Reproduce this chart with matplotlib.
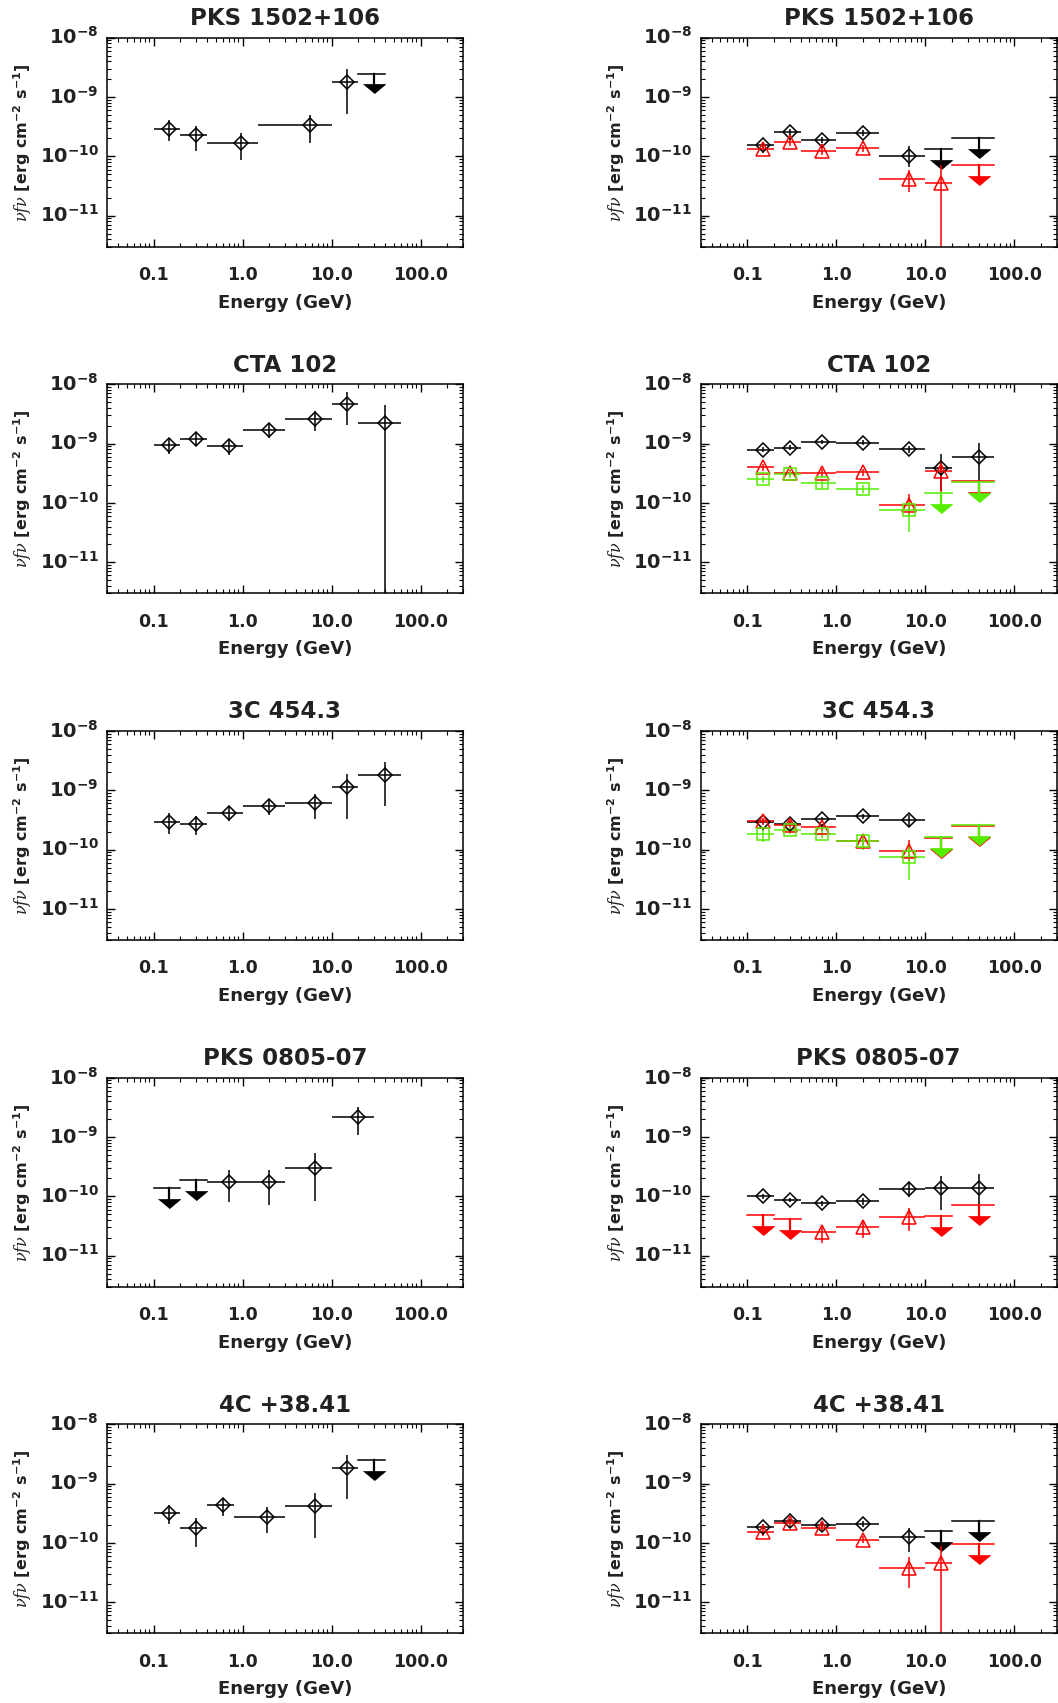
import numpy as np
import matplotlib
matplotlib.use('Agg')
import matplotlib.pyplot as plt
from matplotlib.ticker import NullFormatter, LogLocator

nan = np.nan

plt.rcParams['font.family'] = 'DejaVu Sans'
plt.rcParams['mathtext.fontset'] = 'custom'
plt.rcParams['mathtext.rm'] = 'DejaVu Sans:bold'
plt.rcParams['mathtext.bf'] = 'DejaVu Sans:bold'
plt.rcParams['mathtext.it'] = 'DejaVu Serif:italic'

#energy bins (GeV)
edges_std = [0.1, 0.2, 0.4, 1, 3, 10, 20, 60]
e_std = [0.15, 0.3, 0.7, 2, 6.5, 15, 40]
edges_1502 = [0.1, 0.2, 0.4, 1.5, 10, 20, 40]
e_1502 = [0.15, 0.3, 0.95, 5.75, 15, 30]
edges_0805 = [0.1, 0.2, 0.4, 1, 3, 10, 30]
e_0805 = [0.15, 0.3, 0.7, 2, 6.5, 20]
edges_3841 = [0.1, 0.2, 0.4, 0.8, 3, 10, 20, 40]
e_3841 = [0.15, 0.3, 0.6, 1.9, 6.5, 15, 30]

#PKS 1502+106
f_1502 = [2.94e-10, 2.25e-10, 1.69e-10, 3.35e-10, 1.78e-9, 2.49e-9]
lo_1502 = [1.78e-10, 1.25e-10, 8.7e-11, 1.67e-10, 5.26e-10, nan]
hi_1502 = [4.12e-10, 3.2e-10, 2.52e-10, 4.99e-10, 2.99e-9, nan]
ul_1502 = [0, 0, 0, 0, 0, 1]

f_1502_k = [1.57e-10, 2.59e-10, 1.90e-10, 2.49e-10, 1.01e-10, 1.33e-10, 2.03e-10]
lo_1502_k = [1.40e-10, 2.33e-10, 1.70e-10, 2.24e-10, 6.6e-11, nan, nan]
hi_1502_k = [1.75e-10, 2.88e-10, 2.12e-10, 2.76e-10, 1.47e-10, nan, nan]
ul_1502_k = [0, 0, 0, 0, 0, 1, 1]
f_1502_r = [1.34e-10, 1.74e-10, 1.23e-10, 1.38e-10, 4.23e-11, 3.52e-11, 7.24e-11]
lo_1502_r = [1.15e-10, 1.5e-10, 1.05e-10, 1.2e-10, 2.46e-11, 1e-13, nan]
hi_1502_r = [1.55e-10, 2.0e-10, 1.42e-10, 1.58e-10, 5.8e-11, 7.1e-11, nan]
ul_1502_r = [0, 0, 0, 0, 0, 0, 1]

#CTA 102
f_cta = [9.4e-10, 1.21e-9, 9.0e-10, 1.70e-9, 2.58e-9, 4.68e-9, 2.26e-9]
lo_cta = [6.6e-10, 9.5e-10, 6.4e-10, 1.23e-9, 1.66e-9, 2.04e-9, 1e-13]
hi_cta = [1.2e-9, 1.49e-9, 1.15e-9, 2.12e-9, 3.56e-9, 7.4e-9, 4.5e-9]
ul_cta = [0, 0, 0, 0, 0, 0, 0]

f_cta_k = [7.92e-10, 8.55e-10, 1.07e-9, 1.04e-9, 8.23e-10, 3.94e-10, 6.04e-10]
lo_cta_k = [7.2e-10, 7.8e-10, 9.8e-10, 9.5e-10, 7.0e-10, 1.6e-10, 1.53e-10]
hi_cta_k = [8.7e-10, 9.4e-10, 1.17e-9, 1.14e-9, 9.0e-10, 6.8e-10, 1.04e-9]
ul_cta_k = [0, 0, 0, 0, 0, 0, 0]
f_cta_r = [3.98e-10, 3.2e-10, 3.2e-10, 3.33e-10, 9.4e-11, 3.41e-10, 2.32e-10]
lo_cta_r = [3.5e-10, 2.8e-10, 2.75e-10, 2.9e-10, 6.3e-11, 1.54e-10, nan]
hi_cta_r = [4.5e-10, 3.65e-10, 3.7e-10, 3.8e-10, 1.41e-10, 5.4e-10, nan]
ul_cta_r = [0, 0, 0, 0, 0, 0, 1]
f_cta_g = [2.5e-10, 3.03e-10, 2.14e-10, 1.72e-10, 7.5e-11, 1.49e-10, 2.25e-10]
lo_cta_g = [2.15e-10, 2.6e-10, 1.8e-10, 1.45e-10, 3.2e-11, nan, nan]
hi_cta_g = [2.9e-10, 3.5e-10, 2.5e-10, 2.0e-10, 1.04e-10, nan, nan]
ul_cta_g = [0, 0, 0, 0, 0, 1, 1]

#3C 454.3
f_454 = [2.96e-10, 2.74e-10, 4.15e-10, 5.44e-10, 6.04e-10, 1.14e-9, 1.81e-9]
lo_454 = [1.81e-10, 1.74e-10, 3.04e-10, 3.89e-10, 3.33e-10, 3.29e-10, 5.44e-10]
hi_454 = [4.15e-10, 3.74e-10, 5.3e-10, 6.96e-10, 8.8e-10, 1.91e-9, 3.04e-9]
ul_454 = [0, 0, 0, 0, 0, 0, 0]

f_454_k = [2.96e-10, 2.74e-10, 3.29e-10, 3.69e-10, 3.2e-10]
lo_454_k = [2.7e-10, 2.5e-10, 3.0e-10, 3.35e-10, 2.41e-10]
hi_454_k = [3.25e-10, 3.0e-10, 3.6e-10, 4.05e-10, 3.9e-10]
ul_454_k = [0, 0, 0, 0, 0]
f_454_r = [3.0e-10, 2.64e-10, 2.41e-10, 1.40e-10, 9.5e-11, 1.60e-10, 2.50e-10]
lo_454_r = [2.6e-10, 2.3e-10, 2.1e-10, 1.2e-10, 6.5e-11, nan, nan]
hi_454_r = [3.45e-10, 3.0e-10, 2.75e-10, 1.62e-10, 1.44e-10, nan, nan]
ul_454_r = [0, 0, 0, 0, 0, 1, 1]
f_454_g = [1.86e-10, 2.12e-10, 1.86e-10, 1.38e-10, 7.5e-11, 1.66e-10, 2.58e-10]
lo_454_g = [1.35e-10, 1.85e-10, 1.6e-10, 1.0e-10, 3.1e-11, nan, nan]
hi_454_g = [2.4e-10, 2.45e-10, 2.15e-10, 1.8e-10, 1.18e-10, nan, nan]
ul_454_g = [0, 0, 0, 0, 0, 1, 1]

#PKS 0805-07
f_0805 = [1.36e-10, 1.91e-10, 1.77e-10, 1.77e-10, 3.04e-10, 2.14e-9]
lo_0805 = [nan, nan, 8.1e-11, 7.1e-11, 8.45e-11, 1.08e-9]
hi_0805 = [nan, nan, 2.74e-10, 2.74e-10, 5.3e-10, 3.16e-9]
ul_0805 = [1, 1, 0, 0, 0, 0]

f_0805_k = [1.0e-10, 8.67e-11, 7.72e-11, 8.24e-11, 1.33e-10, 1.38e-10, 1.38e-10]
lo_0805_k = [9.2e-11, 8.0e-11, 7.0e-11, 7.2e-11, 9.6e-11, 5.8e-11, 4.6e-11]
hi_0805_k = [1.08e-10, 9.4e-11, 8.4e-11, 9.4e-11, 1.67e-10, 2.17e-10, 2.41e-10]
ul_0805_k = [0, 0, 0, 0, 0, 0, 0]
f_0805_r = [4.79e-11, 4.2e-11, 2.47e-11, 3.0e-11, 4.43e-11, 4.6e-11, 7.24e-11]
lo_0805_r = [nan, nan, 1.63e-11, 2.0e-11, 2.57e-11, nan, nan]
hi_0805_r = [nan, nan, 3.3e-11, 4.0e-11, 6.4e-11, nan, nan]
ul_0805_r = [1, 1, 0, 0, 0, 1, 1]

#4C +38.41
f_3841 = [3.24e-10, 1.77e-10, 4.36e-10, 2.78e-10, 4.15e-10, 1.84e-9, 2.47e-9]
lo_3841 = [2.09e-10, 8.6e-11, 2.89e-10, 1.48e-10, 1.21e-10, 5.52e-10, nan]
hi_3841 = [4.32e-10, 2.64e-10, 5.81e-10, 3.99e-10, 6.87e-10, 3.08e-9, nan]
ul_3841 = [0, 0, 0, 0, 0, 0, 1]

f_3841_k = [1.88e-10, 2.37e-10, 1.98e-10, 2.06e-10, 1.27e-10, 1.59e-10, 2.37e-10]
lo_3841_k = [1.72e-10, 2.17e-10, 1.8e-10, 1.85e-10, 7.0e-11, nan, nan]
hi_3841_k = [2.05e-10, 2.58e-10, 2.15e-10, 2.3e-10, 1.81e-10, nan, nan]
ul_3841_k = [0, 0, 0, 0, 0, 1, 1]
f_3841_r = [1.53e-10, 2.14e-10, 1.79e-10, 1.13e-10, 3.77e-11, 4.64e-11, 9.6e-11]
lo_3841_r = [1.3e-10, 1.85e-10, 1.55e-10, 9.8e-11, 1.75e-11, 1e-13, nan]
hi_3841_r = [1.75e-10, 2.45e-10, 2.05e-10, 1.3e-10, 5.86e-11, 8.9e-11, nan]
ul_3841_r = [0, 0, 0, 0, 0, 0, 1]

titles = ['PKS 1502+106', 'CTA 102', '3C 454.3', 'PKS 0805-07', '4C +38.41']

RED = '#ff0000'
GREEN = '#55ee00'
TXT = '#222222'
# flat filled down arrow head used for upper limits
ARROW = [(-1.2, 0), (1.2, 0), (0, -1)]
UL_DROP = 1.53


def draw(ax, edges, e, f, lo, hi, ul, color, marker, ms):
    for i in range(len(f)):
        if ul[i]:
            ax.plot([edges[i], edges[i + 1]], [f[i], f[i]], color=color, lw=1.1)
            ax.plot([e[i], e[i]], [f[i], f[i] / UL_DROP], color=color, lw=1.6)
            ax.plot(e[i], f[i] / UL_DROP, marker=ARROW, ms=16, color=color,
                    mec=color, mew=0.5, ls='none')
        else:
            ax.errorbar(e[i], f[i],
                        xerr=[[e[i] - edges[i]], [edges[i + 1] - e[i]]],
                        yerr=[[f[i] - lo[i]], [hi[i] - f[i]]],
                        fmt=marker, mfc='none', mec=color, ecolor=color,
                        ms=ms, mew=1.1, elinewidth=1.1, capsize=0)


fig = plt.figure(figsize=(10.58, 17.03), dpi=100)

tops = [37.7, 384.3, 731, 1077.7, 1424.3]
lefts = [107 / 1058, 700.7 / 1058]
w = 356 / 1058
h = 209 / 1703

DM = 7.0   # diamond size
TM = 10.0  # triangle / square size

left_data = [
    [(edges_1502, e_1502, f_1502, lo_1502, hi_1502, ul_1502, 'black', 'D', DM)],
    [(edges_std, e_std, f_cta, lo_cta, hi_cta, ul_cta, 'black', 'D', DM)],
    [(edges_std, e_std, f_454, lo_454, hi_454, ul_454, 'black', 'D', DM)],
    [(edges_0805, e_0805, f_0805, lo_0805, hi_0805, ul_0805, 'black', 'D', DM)],
    [(edges_3841, e_3841, f_3841, lo_3841, hi_3841, ul_3841, 'black', 'D', DM)],
]
right_data = [
    [(edges_std, e_std, f_1502_k, lo_1502_k, hi_1502_k, ul_1502_k, 'black', 'D', DM),
     (edges_std, e_std, f_1502_r, lo_1502_r, hi_1502_r, ul_1502_r, RED, '^', TM)],
    [(edges_std, e_std, f_cta_k, lo_cta_k, hi_cta_k, ul_cta_k, 'black', 'D', DM),
     (edges_std, e_std, f_cta_r, lo_cta_r, hi_cta_r, ul_cta_r, RED, '^', TM),
     (edges_std, e_std, f_cta_g, lo_cta_g, hi_cta_g, ul_cta_g, GREEN, 's', 9)],
    [(edges_std, e_std, f_454_k, lo_454_k, hi_454_k, ul_454_k, 'black', 'D', DM),
     (edges_std, e_std, f_454_r, lo_454_r, hi_454_r, ul_454_r, RED, '^', TM),
     (edges_std, e_std, f_454_g, lo_454_g, hi_454_g, ul_454_g, GREEN, 's', 9)],
    [(edges_std, e_std, f_0805_k, lo_0805_k, hi_0805_k, ul_0805_k, 'black', 'D', DM),
     (edges_std, e_std, f_0805_r, lo_0805_r, hi_0805_r, ul_0805_r, RED, '^', TM)],
    [(edges_std, e_std, f_3841_k, lo_3841_k, hi_3841_k, ul_3841_k, 'black', 'D', DM),
     (edges_std, e_std, f_3841_r, lo_3841_r, hi_3841_r, ul_3841_r, RED, '^', TM)],
]

for row in range(5):
    bottom = 1 - (tops[row] + 209) / 1703
    for col, data in enumerate([left_data, right_data]):
        ax = fig.add_axes([lefts[col], bottom, w, h])
        ax.set_xscale('log')
        ax.set_yscale('log')
        for series in data[row]:
            draw(ax, *series)
        ax.set_xlim(0.03, 300)
        ax.set_ylim(3e-12, 1e-8)

        ax.set_xticks([0.1, 1, 10, 100])
        ax.set_xticklabels(['0.1', '1.0', '10.0', '100.0'], fontweight='bold',
                           fontsize=12.5, color=TXT)
        ax.set_yticks([1e-11, 1e-10, 1e-9, 1e-8])
        ax.set_yticklabels([r'$10^{-11}$', r'$10^{-10}$', r'$10^{-9}$', r'$10^{-8}$'],
                           fontsize=14, color=TXT, va='center')
        ax.xaxis.set_minor_locator(LogLocator(subs=np.arange(2, 10)))
        ax.yaxis.set_minor_locator(LogLocator(subs=np.arange(2, 10)))
        ax.xaxis.set_minor_formatter(NullFormatter())
        ax.yaxis.set_minor_formatter(NullFormatter())
        ax.tick_params(which='both', direction='in', top=True, right=True)
        ax.tick_params(which='major', length=6, width=1)
        ax.tick_params(which='minor', length=3, width=0.8)
        ax.tick_params(axis='x', which='major', pad=14)
        ax.tick_params(axis='y', which='major', pad=6)
        for sp in ax.spines.values():
            sp.set_linewidth(1.1)

        ax.set_title(titles[row], fontsize=16.5, fontweight='bold', color=TXT, pad=9)
        ax.set_xlabel('Energy (GeV)', fontsize=13, fontweight='bold', color=TXT)
        ax.xaxis.set_label_coords(0.5, -0.225)
        ax.set_ylabel(r'$\nu f \nu$ [erg cm$^{-2}$ s$^{-1}$]', fontsize=11.5,
                      fontweight='bold', color=TXT)
        ax.yaxis.set_label_coords(-0.205, 0.5)

fig.savefig('out.png', dpi=100)
